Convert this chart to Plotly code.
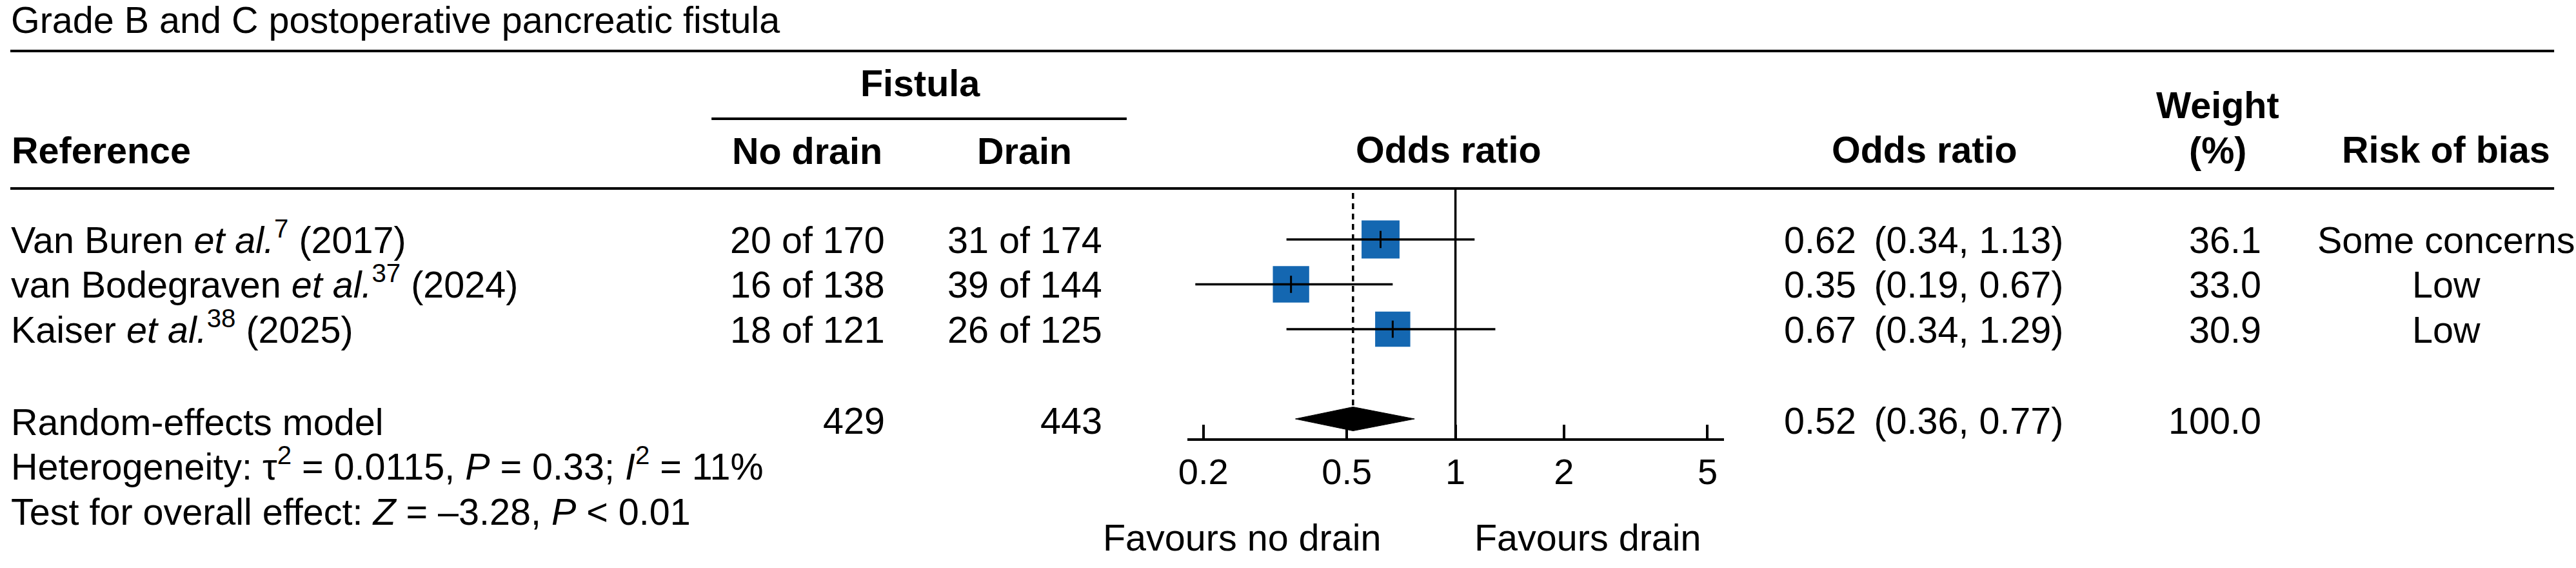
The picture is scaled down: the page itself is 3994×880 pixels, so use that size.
import math
import plotly.graph_objects as go

# ---------------- data ----------------
title_text = "Grade B and C postoperative pancreatic fistula"
authors = ["Van Buren", "van Bodegraven", "Kaiser"]
ref_nums = ["7", "37", "38"]
years = ["2017", "2024", "2025"]
events_no_drain = [20, 16, 18]
total_no_drain = [170, 138, 121]
events_drain = [31, 39, 26]
total_drain = [174, 144, 125]
odds_ratio = [0.62, 0.35, 0.67]
ci_lower = [0.34, 0.19, 0.34]
ci_upper = [1.13, 0.67, 1.29]
weights = [36.1, 33.0, 30.9]
risk_of_bias = ["Some concerns", "Low", "Low"]

pooled_or = 0.52
pooled_lower = 0.36
pooled_upper = 0.77
pooled_n_no_drain = 429
pooled_n_drain = 443
pooled_weight = 100.0

tau2 = "0.0115"
p_het = "0.33"
i2 = "11%"
z_value = "–3.28"
p_overall = "0.01"

tick_vals = [0.2, 0.5, 1, 2, 5]
tick_text = ["0.2", "0.5", "1", "2", "5"]
label_left = "Favours no drain"
label_right = "Favours drain"

# ---------------- geometry / style ----------------
W, H = 3994, 880
FONT = "Liberation Sans"
FS = 57.5
TICK_FS = 56
BLUE = "#1467b1"
ROW0 = 371.0     # pixel of row 1
STEP = 69.5      # pixels per row
study_rows = [1, 2, 3]
summary_row = 5
GAP = "\u00a0\u2009"


def row_px(r):
    return ROW0 + (r - 1) * STEP


def px_x(p):
    return p / W


yr_top = (0 - ROW0) / STEP + 1
yr_bot = (H - ROW0) / STEP + 1


def px_to_row(p):
    return (p - ROW0) / STEP + 1


annotations = []


def text(s, x_px, cap_center_px, anchor="left", size=FS):
    baseline = cap_center_px + 0.358 * size
    bottom = baseline + 0.212 * size
    annotations.append(dict(
        text=s, x=px_x(x_px), y=1 - bottom / H, xref="paper", yref="paper",
        xanchor=anchor, yanchor="bottom", showarrow=False,
        borderpad=0, borderwidth=0,
        font=dict(family=FONT, size=size, color="black"),
    ))


# title and headers
text(title_text, 3, 30)
text("<b>Fistula</b>", 1418, 128, "center")
text("<b>Reference</b>", 4, 232)
text("<b>No drain</b>", 1242, 233, "center")
text("<b>Drain</b>", 1580, 233, "center")
text("<b>Odds ratio</b>", 2240, 231, "center")
text("<b>Odds ratio</b>", 2980, 231, "center")
text("<b>Weight</b>", 3437, 162, "center")
text("<b>(%)</b>", 3437, 232, "center")
text("<b>Risk of bias</b>", 3792, 231, "center")

# study rows
for i, r in enumerate(study_rows):
    y = row_px(r)
    text(f"{authors[i]} <i>et al.</i><sup>{ref_nums[i]}</sup> ({years[i]})", 3, y)
    text(f"{events_no_drain[i]} of {total_no_drain[i]}", 1363, y, "right")
    text(f"{events_drain[i]} of {total_drain[i]}", 1701, y, "right")
    text(f"{odds_ratio[i]:.2f}{GAP}({ci_lower[i]:.2f}, {ci_upper[i]:.2f})", 2762, y)
    text(f"{weights[i]:.1f}", 3504, y, "right")
    text(risk_of_bias[i], 3792, y, "center")

# summary row
ys = row_px(summary_row) + 2
text("Random-effects model", 3, ys + 2)
text(f"{pooled_n_no_drain}", 1363, ys, "right")
text(f"{pooled_n_drain}", 1701, ys, "right")
text(f"{pooled_or:.2f}{GAP}({pooled_lower:.2f}, {pooled_upper:.2f})", 2762, ys)
text(f"{pooled_weight:.1f}", 3504, ys, "right")
text(f"Heterogeneity: \u03c4<sup>2</sup> = {tau2}, <i>P</i> = {p_het}; <i>I</i><sup>2</sup> = {i2}", 3, 722)
text(f"Test for overall effect: <i>Z</i> = {z_value}, <i>P</i> &lt; {p_overall}", 3, 792)
text(label_left, 2134, 832, "right")
text(label_right, 2280, 832, "left")

# ---------------- traces ----------------
fig = go.Figure()

sq_sizes = [9.8 * math.sqrt(w) for w in weights]
fig.add_trace(go.Scatter(
    x=odds_ratio, y=study_rows, mode="markers",
    marker=dict(symbol="square", size=sq_sizes, color=BLUE, opacity=1,
                line=dict(width=0)),
    hoverinfo="skip", cliponaxis=False))

ci_x, ci_y = [], []
for lo, hi, r in zip(ci_lower, ci_upper, study_rows):
    ci_x += [lo, hi, None]
    ci_y += [r, r, None]
fig.add_trace(go.Scatter(x=ci_x, y=ci_y, mode="lines",
                         line=dict(color="black", width=3.5), hoverinfo="skip",
                         cliponaxis=False))

fig.add_trace(go.Scatter(
    x=odds_ratio, y=study_rows, mode="markers",
    marker=dict(symbol="line-ns", size=19, color="black", opacity=1,
                line=dict(width=3, color="black")),
    hoverinfo="skip", cliponaxis=False))

# reference line at OR = 1
fig.add_trace(go.Scatter(x=[1, 1], y=[px_to_row(292), px_to_row(681)], mode="lines",
                         line=dict(color="black", width=3.5), hoverinfo="skip",
                         cliponaxis=False))
# pooled estimate dashed line
fig.add_trace(go.Scatter(x=[pooled_or, pooled_or], y=[px_to_row(299), px_to_row(628)],
                         mode="lines",
                         line=dict(color="black", width=3.5, dash="9px,7px"),
                         hoverinfo="skip", cliponaxis=False))
# diamond
dh = 18.5 / STEP
fig.add_trace(go.Scatter(
    x=[pooled_lower, pooled_or, pooled_upper, pooled_or, pooled_lower],
    y=[summary_row, summary_row - dh, summary_row, summary_row + dh, summary_row],
    mode="lines", fill="toself", fillcolor="black",
    line=dict(color="black", width=1), hoverinfo="skip", cliponaxis=False))

# ---------------- layout ----------------
rule = dict(type="line", xref="paper", yref="paper", line=dict(color="black", width=4))
shapes = [
    dict(rule, x0=px_x(2), x1=px_x(3960), y0=1 - 79 / H, y1=1 - 79 / H),
    dict(rule, x0=px_x(2), x1=px_x(3960), y0=1 - 292 / H, y1=1 - 292 / H),
    dict(rule, x0=px_x(1093), x1=px_x(1739), y0=1 - 184 / H, y1=1 - 184 / H),
]

fig.update_layout(
    width=W, height=H, autosize=False,
    margin=dict(l=0, r=0, t=0, b=0, pad=0),
    paper_bgcolor="white", plot_bgcolor="white",
    showlegend=False,
    font=dict(family=FONT, size=FS, color="black"),
    annotations=annotations,
    shapes=shapes,
    xaxis=dict(
        type="log", range=[-0.744, 0.744],
        domain=[1833 / W, 2668 / W],
        anchor="free", position=1 - 681 / H,
        showline=True, linewidth=4, linecolor="black",
        ticks="inside", ticklen=21, tickwidth=3.5, tickcolor="black",
        tickvals=tick_vals, ticktext=tick_text,
        tickfont=dict(family=FONT, size=TICK_FS, color="black"),
        showgrid=False, zeroline=False, fixedrange=True,
    ),
    yaxis=dict(range=[yr_bot, yr_top], domain=[0, 1], visible=False,
               showgrid=False, zeroline=False, fixedrange=True),
)

fig.write_html("out.html", config={"displayModeBar": False},
               post_script="document.body.style.margin='0';document.body.style.overflow='hidden';")
